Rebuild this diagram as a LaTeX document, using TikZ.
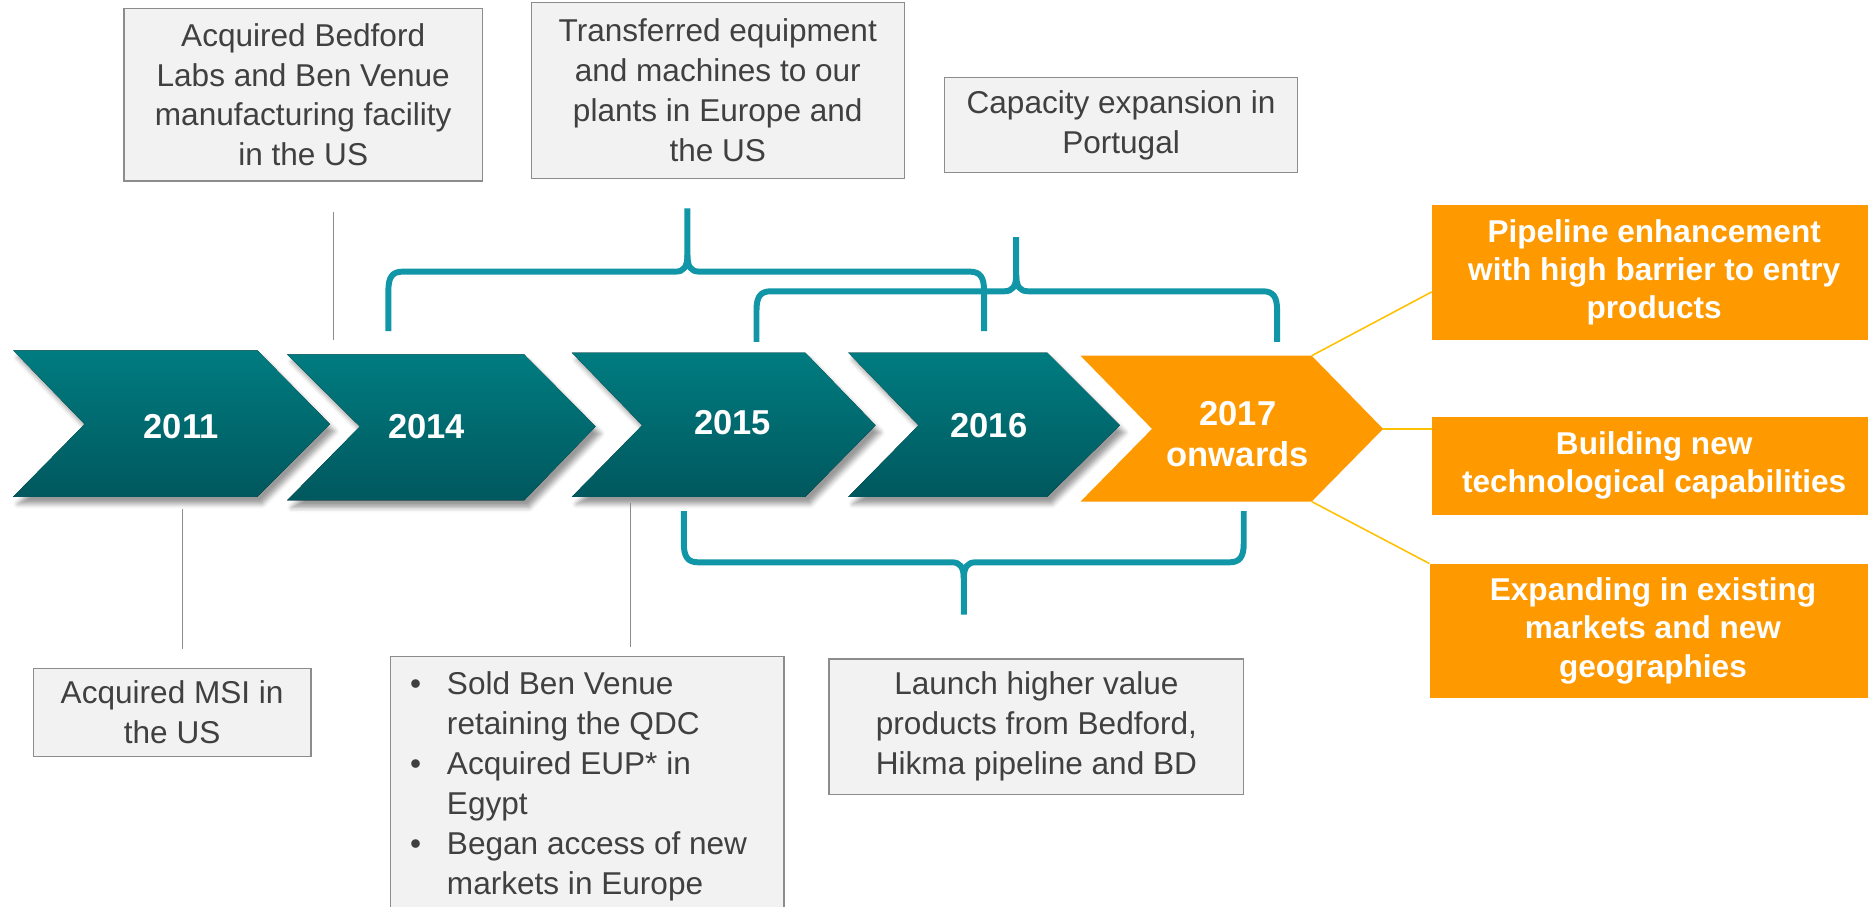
\documentclass[tikz,border=0pt]{standalone}
\usepackage{fontspec}
\setmainfont{Liberation Sans}
\usetikzlibrary{shadows.blur}
\definecolor{tealA}{RGB}{0,124,128}
\definecolor{tealB}{RGB}{0,88,94}
\definecolor{bracec}{RGB}{16,150,166}
\definecolor{orangec}{RGB}{255,153,0}
\definecolor{linkc}{RGB}{255,192,0}
\definecolor{boxfill}{RGB}{242,242,242}
\definecolor{boxline}{RGB}{140,140,140}
\definecolor{txtc}{RGB}{64,64,64}
\newcommand\mybrace[7]{%
  \draw[brace] (#1,#5) -- (#1,#4+16*#7) .. controls (#1,#4+5*#7) and (#1+3,#4) .. (#1+12,#4)
     -- (#3-10,#4) .. controls (#3-3,#4) and (#3,#4-4*#7) .. (#3,#4-14*#7) -- (#3,#6);
  \draw[brace] (#3,#4-14*#7) .. controls (#3,#4-4*#7) and (#3+3,#4) .. (#3+10,#4)
     -- (#2-12,#4) .. controls (#2-3,#4) and (#2,#4+5*#7) .. (#2,#4+16*#7) -- (#2,#5);}
\begin{document}
\begin{tikzpicture}[x=1pt,y=-1pt,
 graybox/.style={draw=boxline,line width=1.2pt,fill=boxfill,text=txtc,align=center,
   font=\fontsize{26.5}{33.5}\selectfont,inner sep=0pt},
 graytxt/.style={text=txtc,font=\fontsize{26.5}{33.5}\selectfont,inner sep=0pt},
 orangebox/.style={fill=orangec,text=white,align=center,
   font=\fontsize{26.5}{32}\selectfont\bfseries,inner sep=0pt},
 yeartxt/.style={text=white,align=center,font=\fontsize{29}{35}\selectfont\bfseries,inner sep=0pt},
 chev/.style={top color=tealA,bottom color=tealB,
   blur shadow={shadow xshift=4pt,shadow yshift=-6pt,shadow blur radius=4pt,shadow opacity=40}},
 brace/.style={draw=bracec,line width=5pt,line join=round,line cap=butt},
 link/.style={draw=linkc,line width=1.3pt},
 tick/.style={draw=boxline,line width=1.2pt}]
\useasboundingbox (0,0) rectangle (1568,761);

% chevrons
\fill[chev] (11,294) -- (216,294) -- (277,356) -- (216,417) -- (11,417) -- (71,356) -- cycle;
\fill[chev] (241,297.5) -- (440,297.5) -- (500,358) -- (440,420) -- (241,420) -- (302,358) -- cycle;
\fill[chev] (480,296) -- (676,296) -- (735,357) -- (676,417) -- (480,417) -- (539,357) -- cycle;
\fill[chev] (712,296) -- (879,296) -- (940,357) -- (879,417) -- (712,417) -- (771,357) -- cycle;
\fill[orangec] (907,298.6) -- (1101,298.6) -- (1161,360) -- (1101,421) -- (907,421) -- (967,360) -- cycle;

\node[yeartxt] (y2011) at (152,358) {2011};
\node[yeartxt] (y2014) at (358,358) {2014};
\node[yeartxt] (y2015) at (615,355) {2015};
\node[yeartxt] (y2016) at (830,357) {2016};
\node[yeartxt] (y2017) at (1039,364.5) {2017\\onwards};

% gray boxes
\node[graybox,minimum width=301pt,minimum height=145pt] (bedford) at (254.5,79.5)
  {Acquired Bedford\\Labs and Ben Venue\\manufacturing facility\\in the US};
\node[graybox,minimum width=313pt,minimum height=148pt] (transfer) at (602.5,76)
  {Transferred equipment\\and machines to our\\plants in Europe and\\the US};
\node[graybox,minimum width=296pt,minimum height=80pt] (portugal) at (941,105)
  {Capacity expansion in\\Portugal};
\node[graybox,minimum width=233pt,minimum height=74pt] (msi) at (144.5,598)
  {Acquired MSI in\\the US};
\node[graybox,minimum width=348pt,minimum height=114pt] (launch) at (870,610)
  {Launch higher value\\products from Bedford,\\Hikma pipeline and BD};
\draw[draw=boxline,line width=1.2pt,fill=boxfill] (328,551) rectangle (658,780);
\node[graytxt,align=left,anchor=west] (sold) at (344,660)
  {\makebox[31pt][l]{•}Sold Ben Venue\\\hspace*{31pt}retaining the QDC\\
   \makebox[31pt][l]{•}Acquired EUP* in\\\hspace*{31pt}Egypt\\
   \makebox[31pt][l]{•}Began access of new\\\hspace*{31pt}markets in Europe};

% orange boxes
\node[orangebox,minimum width=373pt,minimum height=113pt] (pipe) at (1388.5,228.5)
  {Pipeline enhancement\\with high barrier to entry\\products};
\node[orangebox,minimum width=373pt,minimum height=82pt] (build) at (1388.5,391)
  {Building new\\technological capabilities};
\node[orangebox,minimum width=375pt,minimum height=113pt] (expand) at (1387.5,529.5)
  {Expanding in existing\\markets and new\\geographies};

% links from 2017 chevron
\coordinate (c5top) at (1101,298.6);
\coordinate (c5tip) at (1161,360);
\coordinate (c5bot) at (1101,421);
\draw[link] (c5top) -- (pipe.west |- 0,245);
\draw[link] (c5tip) -- (build.west |- 0,360);
\draw[link] (c5bot) -- (expand.west |- 0,473);

% gray ticks
\coordinate (t1a) at (280,178); \coordinate (t1b) at (280,285);
\coordinate (t2a) at (153,427); \coordinate (t2b) at (153,545);
\coordinate (t3a) at (529,422); \coordinate (t3b) at (529,543);
\draw[tick] (t1a) -- (t1b);
\draw[tick] (t2a) -- (t2b);
\draw[tick] (t3a) -- (t3b);

% braces
\mybrace{635}{1072}{853}{244.5}{287}{199}{1}
\mybrace{326}{826}{577}{228}{278}{175}{1}
\mybrace{574}{1044}{809}{472}{429}{516}{-1}
\end{tikzpicture}
\end{document}
